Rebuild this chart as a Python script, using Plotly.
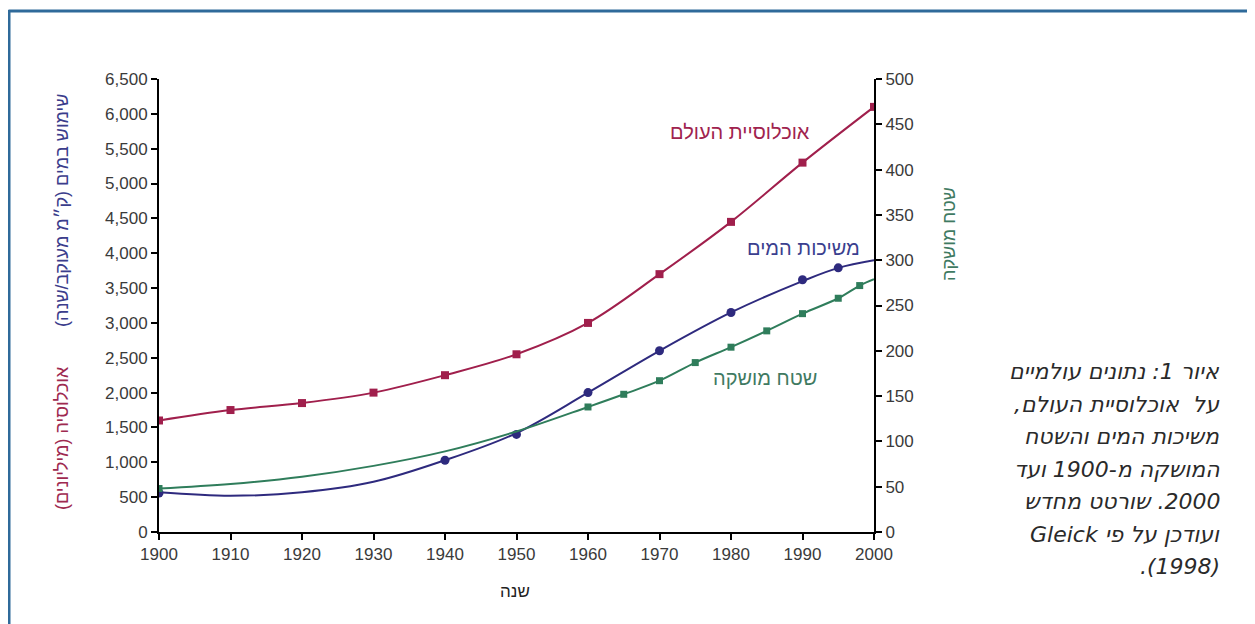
import plotly.graph_objects as go

# ---------------- data ----------------
years_pop = [1900, 1910, 1920, 1930, 1940, 1950, 1960, 1970, 1980, 1990, 2000]
population = [1600, 1750, 1850, 2000, 2250, 2550, 3000, 3700, 4450, 5300, 6100]

# water withdrawals curve (km3/yr)
years_water_line = [1900, 1910, 1920, 1930, 1940, 1950, 1960, 1970, 1980, 1990, 1995, 2000]
water_line = [570, 520, 570, 720, 1030, 1420, 2000, 2600, 3150, 3600, 3790, 3900]
years_water_mk = [1900, 1940, 1950, 1960, 1970, 1980, 1990, 1995]
water_mk = [560, 1030, 1400, 2000, 2600, 3150, 3620, 3790]

# irrigated area (million ha), right axis
years_irr_line = [1900, 1910, 1920, 1930, 1940, 1950, 1960, 1965, 1970, 1975, 1980, 1985, 1990, 1995, 1998, 2000]
irr_line = [48, 53, 61, 73, 89, 111, 138, 152, 167, 187, 204, 222, 241, 258, 272, 279]
years_irr_mk = [1900, 1960, 1965, 1970, 1975, 1980, 1985, 1990, 1995, 1998]
irr_mk = [48, 138, 152, 167, 187, 204, 222, 241, 258, 272]

x_ticks = list(range(1900, 2001, 10))

RED = "#a01f4c"
BLUE = "#2e2a7e"
GREEN = "#2f7d5b"

RLE, PDF = "\u202B", "\u202C"
def rtl(s):
    return RLE + s + PDF

fig = go.Figure()

fig.add_trace(go.Scatter(x=years_pop, y=population, mode="lines+markers",
                         line=dict(color=RED, width=2, shape="spline", smoothing=1.0),
                         marker=dict(symbol="square", size=8, color=RED),
                         showlegend=False, hoverinfo="skip"))
fig.add_trace(go.Scatter(x=years_irr_line, y=irr_line, mode="lines", yaxis="y2",
                         line=dict(color=GREEN, width=2, shape="spline", smoothing=1.0),
                         showlegend=False, hoverinfo="skip"))
fig.add_trace(go.Scatter(x=years_irr_mk, y=irr_mk, mode="markers", yaxis="y2",
                         marker=dict(symbol="square", size=7, color=GREEN),
                         showlegend=False, hoverinfo="skip"))
fig.add_trace(go.Scatter(x=years_water_line, y=water_line, mode="lines",
                         line=dict(color=BLUE, width=2, shape="spline", smoothing=1.0),
                         showlegend=False, hoverinfo="skip"))
fig.add_trace(go.Scatter(x=years_water_mk, y=water_mk, mode="markers",
                         marker=dict(symbol="circle", size=9, color=BLUE),
                         showlegend=False, hoverinfo="skip"))

OFF = 8  # page body margin
W, H = 1255 - OFF, 624 - OFF
# plot-area edges in page pixels
L, R, T, B = 159, 874, 79, 532
pw, ph = R - L, B - T
def px(x):
    return (x - L) / pw
def py(y):
    return (B - y) / ph

tickfont = dict(family="Liberation Sans, Arial, sans-serif", size=17, color="#3a3a3a")

fig.update_layout(
    width=W, height=H,
    margin=dict(l=L - OFF, r=1255 - R, t=T - OFF, b=624 - B, autoexpand=False),
    paper_bgcolor="white", plot_bgcolor="white",
    xaxis=dict(range=[1900, 2000], tickvals=x_ticks, showgrid=False, zeroline=False,
               showline=True, linecolor="black", linewidth=2,
               ticks="outside", ticklen=6, tickcolor="black", tickwidth=1.5,
               tickfont=tickfont),
    yaxis=dict(range=[0, 6500], dtick=500, tickformat=",", showgrid=False, zeroline=False,
               showline=True, linecolor="black", linewidth=2,
               ticks="outside", ticklen=6, tickcolor="black", tickwidth=1.5,
               tickfont=tickfont),
    yaxis2=dict(range=[0, 500], dtick=50, overlaying="y", side="right", showgrid=False,
                zeroline=False, showline=True, linecolor="black", linewidth=2,
                ticks="outside", ticklen=6, tickcolor="black", tickwidth=1.5,
                tickfont=tickfont),
    font=dict(family="Liberation Sans, Arial, sans-serif"),
)

hebfont = "Liberation Sans, Arial, DejaVu Sans, sans-serif"
def note(x, y, text, size, color, angle=0, xanchor="center", family=hebfont):
    return dict(x=px(x), y=py(y), xref="paper", yref="paper", text=text,
                xanchor=xanchor, yanchor="middle", textangle=angle,
                showarrow=False, font=dict(family=family, size=size, color=color))

ann = []
# series labels
ann.append(note(740, 132, rtl("אוכלוסיית העולם"), 20, "#a0234e"))
ann.append(note(803, 248, rtl("משיכות המים"), 20, "#3b3f8f"))
ann.append(note(765, 378, rtl("שטח מושקה"), 20, "#3f7a62"))
# axis titles
ann.append(note(62, 211, rtl("שימוש במים (ק״מ מעוקב/שנה)"), 18, "#3b3d8c", angle=-90))
ann.append(note(62, 438, rtl("אוכלוסיה (מיליונים)"), 18, "#9e2a50", angle=-90))
ann.append(note(949, 234, rtl("שטח מושקה"), 18, "#3f7a62", angle=-90))
ann.append(note(515, 591, rtl("שנה"), 17, "#222222"))

caption = [
    "איור 1: נתונים עולמיים",
    "על  אוכלוסיית העולם,",
    "משיכות המים והשטח",
    "המושקה מ-1900 ועד",
    "2000. שורטט מחדש",
    "ועודכן על פי Gleick",
    "(1998).",
]
cap_y = [371, 404, 436, 469, 501, 534, 566]
for line, yy in zip(caption, cap_y):
    ann.append(note(1222, yy, "<i>" + rtl(line) + "</i>", 22, "#2a2a2a",
                    xanchor="right", family="DejaVu Sans, sans-serif"))
fig.update_layout(annotations=ann)

# blue frame (top and left edges)
frame = "#2f6a9a"
fig.add_shape(type="line", xref="paper", yref="paper", x0=px(8.5), x1=px(1270),
              y0=py(11), y1=py(11), line=dict(color=frame, width=3))
fig.add_shape(type="line", xref="paper", yref="paper", x0=px(9), x1=px(9),
              y0=py(10), y1=py(640), line=dict(color=frame, width=3))

fig.write_html("out.html")
